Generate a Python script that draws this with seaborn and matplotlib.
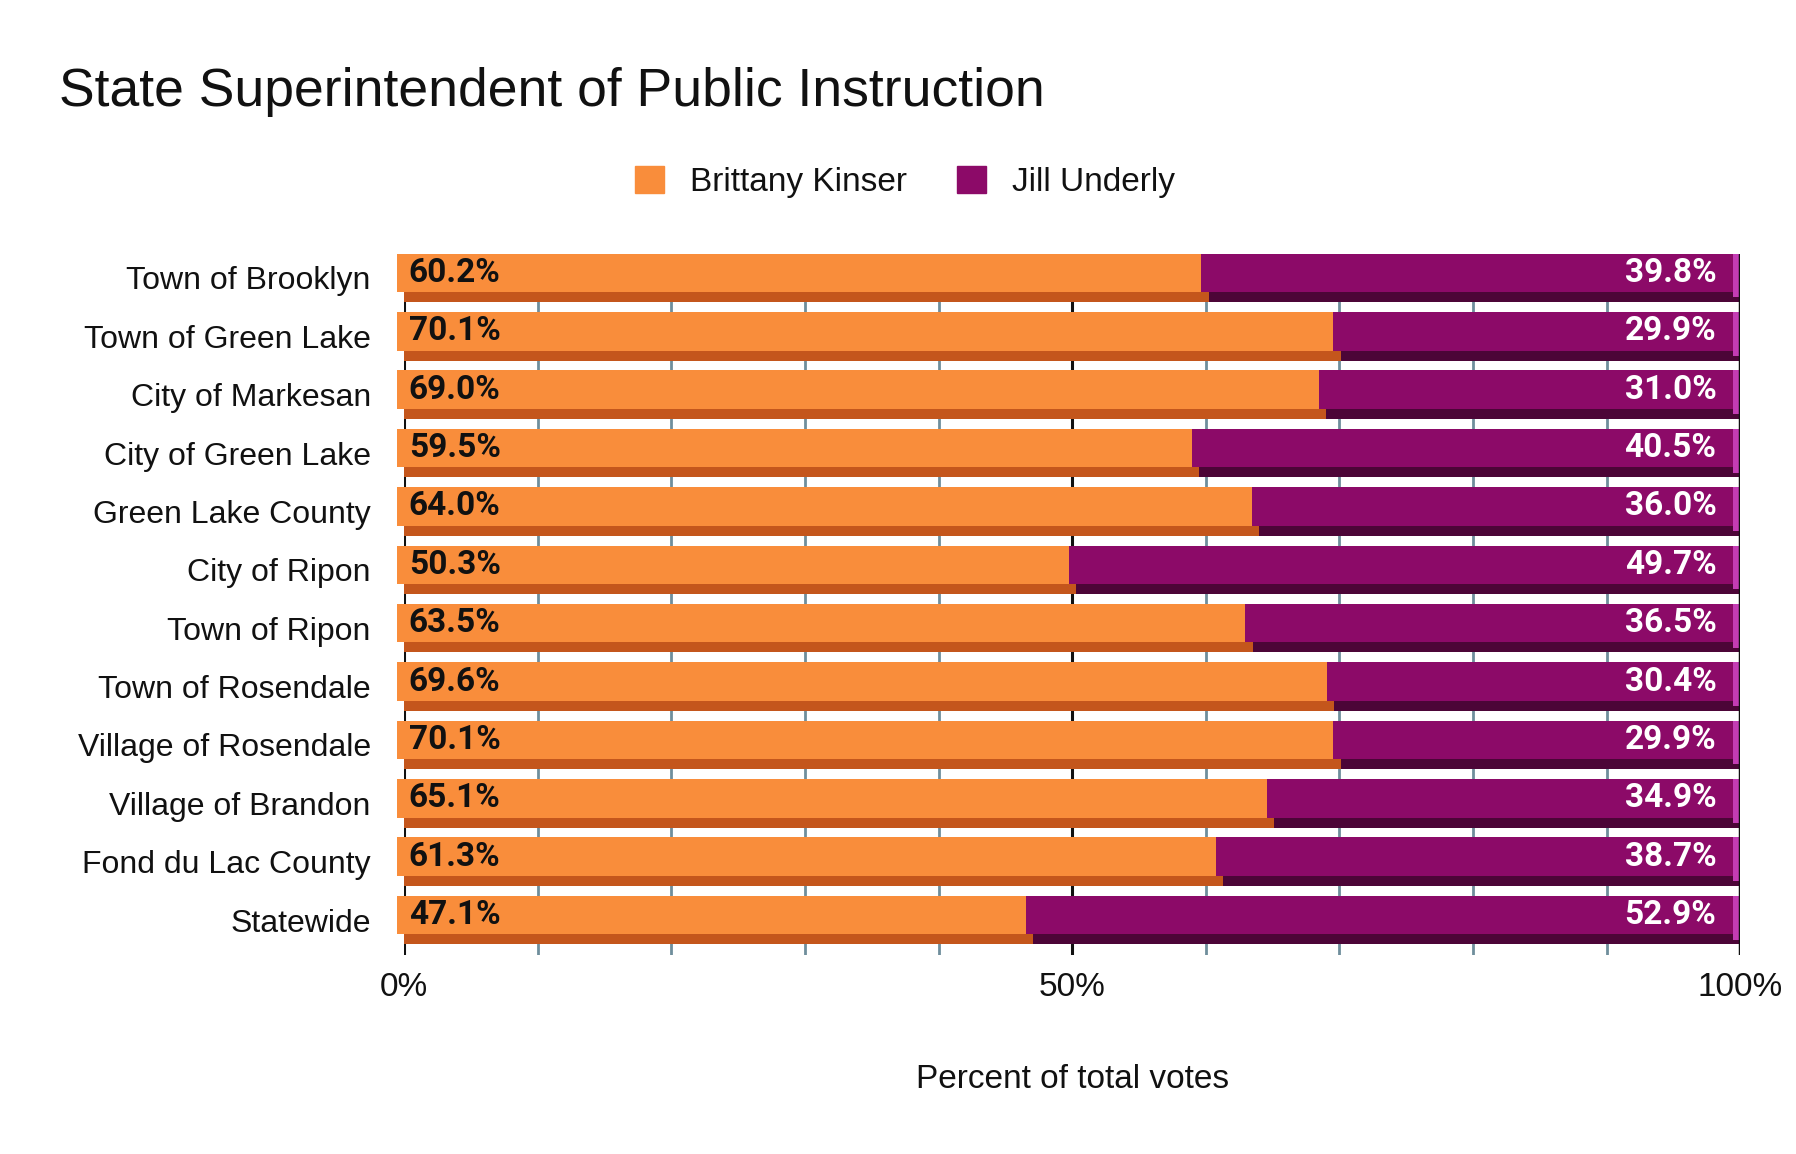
import numpy as np
import pandas as pd
import matplotlib
matplotlib.use("Agg")
import matplotlib.pyplot as plt
import seaborn as sns

# values
places = ["Town of Brooklyn", "Town of Green Lake", "City of Markesan",
          "City of Green Lake", "Green Lake County", "City of Ripon",
          "Town of Ripon", "Town of Rosendale", "Village of Rosendale",
          "Village of Brandon", "Fond du Lac County", "Statewide"]
kinser = [60.2, 70.1, 69.0, 59.5, 64.0, 50.3, 63.5, 69.6, 70.1, 65.1, 61.3, 47.1]
underly = [39.8, 29.9, 31.0, 40.5, 36.0, 49.7, 36.5, 30.4, 29.9, 34.9, 38.7, 52.9]
candidates = ["Brittany Kinser", "Jill Underly"]
x_ticks = [0, 50, 100]
x_ticklabels = ["0%", "50%", "100%"]

ORANGE = "#F98D3B"
ORANGE_DK = "#C4561C"
PURPLE = "#8C0A68"
PURPLE_DK = "#4C0537"
BEVEL = "#C43CB4"

df = pd.DataFrame({"place": places, "kinser": kinser, "underly": underly})
df["total"] = df["kinser"] + df["underly"]

sns.set_theme(style="white")
plt.rcParams["font.family"] = ["Liberation Sans", "DejaVu Sans"]
for key in ["text.color", "axes.labelcolor", "xtick.color", "ytick.color"]:
    plt.rcParams[key] = "#111111"

fig = plt.figure(figsize=(17.96, 11.54), dpi=100)
ax = fig.add_axes([0.225, 0.1724, 0.744, 0.6075])

# gridlines every 10%, darker at 0/50/100
for g in range(10, 100, 10):
    if g != 50:
        ax.axvline(g, color="#6f8e9c", lw=2, zorder=0)
for g in [0, 50]:
    ax.axvline(g, color="#111111", lw=2.2, zorder=0)
ax.axvline(100, color="#111111", lw=2.5, zorder=5)

# depth (shadow) layer of the bars
sns.barplot(data=df, x="total", y="place", color=PURPLE_DK, width=0.83,
            orient="h", saturation=1, ax=ax, zorder=2, linewidth=0)
sns.barplot(data=df, x="kinser", y="place", color=ORANGE_DK, width=0.83,
            orient="h", saturation=1, ax=ax, zorder=2, linewidth=0)

# front faces, shifted a touch left/up for a 3d look
pos = np.arange(len(df))
shift = 0.55
face_y = pos - 0.085
ax.barh(face_y, df["total"], left=-shift, height=0.66,
        color=PURPLE, zorder=3, clip_on=False, linewidth=0)
ax.barh(face_y, df["kinser"], left=-shift, height=0.66,
        color=ORANGE, zorder=3, clip_on=False, linewidth=0)
ax.barh(pos - 0.04, shift, left=df["total"] - shift, height=0.75,
        color=BEVEL, zorder=3, linewidth=0)

for i, row in df.iterrows():
    ax.text(0.35, face_y[i], f"{row['kinser']:.1f}%", ha="left", va="center",
            fontsize=24, fontweight="bold", family=["Roboto", "DejaVu Sans"],
            color="#111111", zorder=6)
    ax.text(98.2, face_y[i], f"{row['underly']:.1f}%", ha="right", va="center",
            fontsize=24, fontweight="bold", family=["Roboto", "DejaVu Sans"],
            color="white", zorder=6)

ax.set_xlim(0, 100)
ax.set_ylim(11.6, -0.41)
ax.set_xticks(x_ticks)
ax.set_xticklabels(x_ticklabels, fontsize=24)
ax.tick_params(axis="x", length=0, pad=12)
ax.tick_params(axis="y", length=0, pad=24, labelsize=23)
ax.set_xlabel("Percent of total votes", fontsize=24, labelpad=44)
ax.set_ylabel("")
for s in ax.spines.values():
    s.set_visible(False)

fig.text(0.033, 0.92, "State Superintendent of Public Instruction",
         fontsize=38.5, va="center", ha="left")

handles = [plt.Rectangle((0, 0), 1, 1, color=ORANGE),
           plt.Rectangle((0, 0), 1, 1, color=PURPLE)]
fig.legend(handles, candidates, loc="center", bbox_to_anchor=(0.504, 0.842),
           ncol=2, frameon=False, prop={"size": 24},
           handlelength=0.85, handleheight=0.85, columnspacing=1.5,
           handletextpad=0.8)

fig.savefig("out.png", dpi=100)
